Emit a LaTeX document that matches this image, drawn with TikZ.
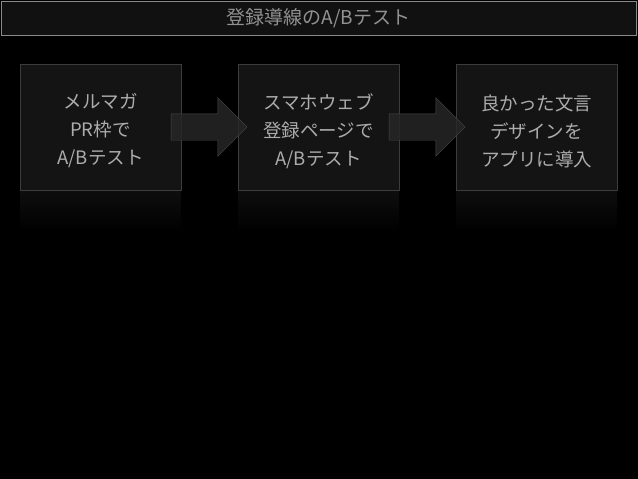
\documentclass[tikz,border=0pt]{standalone}
\usepackage{fontspec}
\setmainfont{Noto Sans CJK JP}
\usetikzlibrary{positioning,shapes.arrows,calc}

\definecolor{boxfill}{HTML}{141414}
\definecolor{boxline}{HTML}{3C3C3C}
\definecolor{arrowfill}{HTML}{262626}
\definecolor{arrowline}{HTML}{4A4A4A}
\definecolor{textgray}{HTML}{ACACAC}
\definecolor{titlefill}{HTML}{111111}
\definecolor{titleline}{HTML}{8A8A8A}

\begin{document}
\begin{tikzpicture}[x=1pt,y=-1pt,
  stepbox/.style={draw=boxline,fill=boxfill,minimum width=161pt,minimum height=126pt,inner sep=0pt},
  steptext/.style={text=textgray,align=center,inner sep=0pt,font=\fontsize{18.5}{28}\selectfont},
  blockarrow/.style={single arrow,draw=arrowline,fill=arrowfill,fill opacity=0.85,
    minimum height=76pt,inner xsep=0pt,inner ysep=13pt,single arrow head extend=16pt},
  shine/.style={top color=boxfill!70!black,bottom color=black,draw=none}]
\fill[black] (0,0) rectangle (638,479);
\useasboundingbox (0,0) rectangle (638,479);

% title bar
\node[draw=titleline,fill=titlefill,minimum width=635pt,minimum height=34pt,
  inner sep=0pt,text=textgray!85!black,font=\fontsize{19}{22}\selectfont] (title) at (318.5,18) {登録導線のA/Bテスト};

% reflections
\foreach \x in {100.5,318.5,536.5}
  \shade[shine] (\x-80.5,190) rectangle (\x+80.5,232);

% steps
\node[stepbox] (mail) at (100.5,127) {};
\node[stepbox] (web) at (318.5,127) {};
\node[stepbox] (app) at (536.5,127) {};
\node[steptext] (mailtext) at ($(mail)+(0,4)$) {メルマガ\\PR枠で\\A/Bテスト};
\node[steptext] (webtext) at ($(web)+(0,4)$) {スマホウェブ\\登録ページで\\A/Bテスト};
\node[steptext] (apptext) at ($(app)+(0,4)$) {良かった文言\\デザインを\\アプリに導入};

\node[blockarrow] (go1) at ($(mail.east)!0.5!(web.west)+(-7,0)$) {};
\node[blockarrow] (go2) at ($(web.east)!0.5!(app.west)+(-7,0)$) {};
\end{tikzpicture}
\end{document}
